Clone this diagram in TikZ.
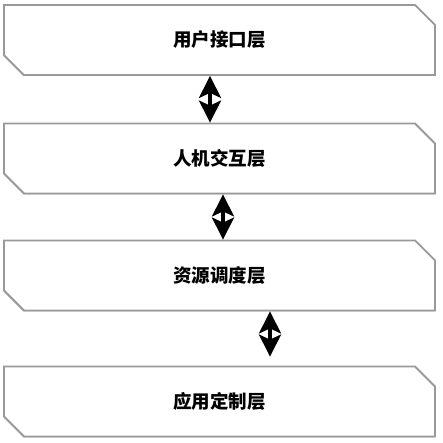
\documentclass[tikz,border=0pt]{standalone}
\usepackage{fontspec}
\newfontfamily\cjk{Noto Sans CJK SC}
\usetikzlibrary{shapes.misc,shadows,arrows.meta}

\begin{document}
\begin{tikzpicture}[x=1pt,y=-1pt,
  layer/.style={draw=black!40,line width=1.8pt,fill=white,
    chamfered rectangle,chamfered rectangle corners={north east,south west},
    chamfered rectangle sep=11pt,minimum width=431pt,minimum height=70pt,
    inner sep=0pt,font=\cjk\bfseries\fontsize{18.5}{20}\selectfont,
    drop shadow={shadow xshift=-0.6pt,shadow yshift=-1.2pt,opacity=0.35}},
  link/.style={{Stealth[length=22pt,width=22pt,inset=5pt]}-{Stealth[length=22pt,width=22pt,inset=5pt]},
    line width=3.5pt}]
\useasboundingbox (0,0) rectangle (442,443);
\node[layer] (ui) at (219.5,40) {用户接口层};
\node[layer] (hci) at (219.5,158.5) {人机交互层};
\node[layer] (res) at (219.5,275.5) {资源调度层};
\node[layer] (app) at (219.5,401.5) {应用定制层};
\draw[link] ([xshift=-9.5pt]ui.south) -- ([xshift=-9.5pt]hci.north);
\draw[link] ([xshift=3.5pt]hci.south) -- ([xshift=3.5pt]res.north);
\draw[link] ([xshift=50.5pt]res.south) -- ([xshift=50.5pt,yshift=9pt]app.north);
\end{tikzpicture}
\end{document}
